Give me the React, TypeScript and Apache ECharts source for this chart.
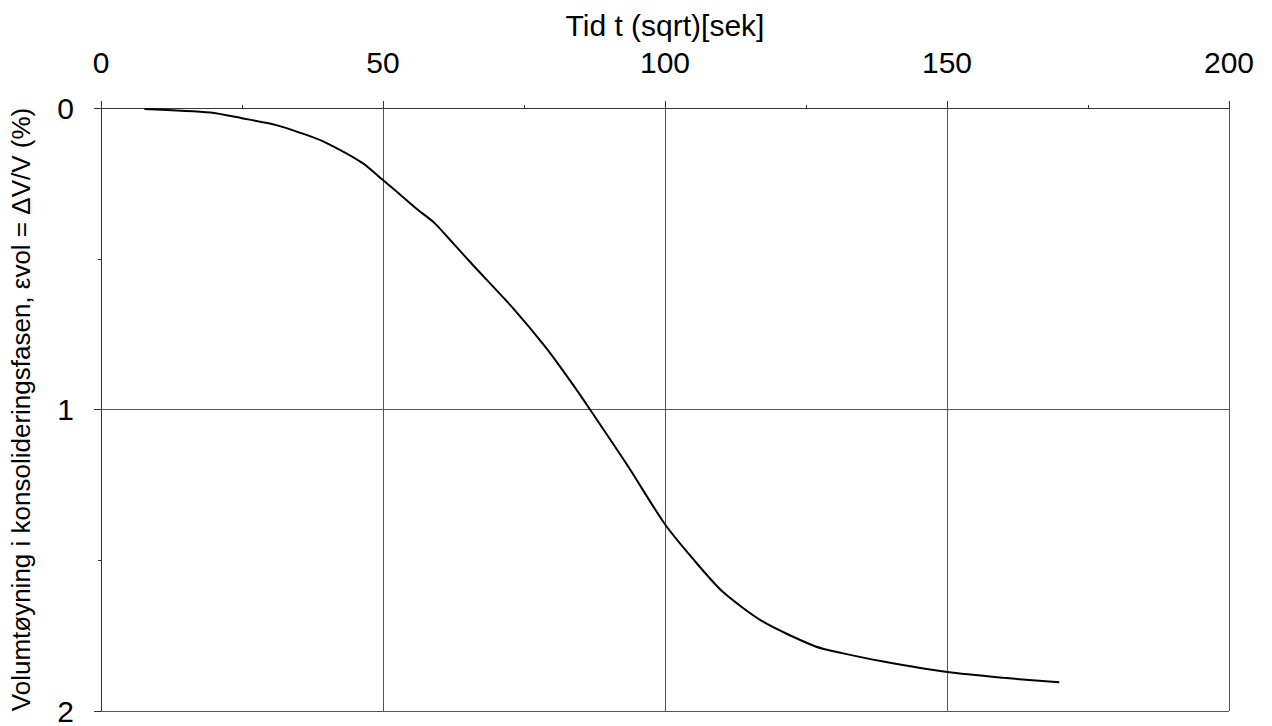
import React, { useEffect, useRef } from "react";
import * as echarts from "echarts";

const timeValues = [7.7, 19.4, 25, 30.9, 35.6, 39.4, 46.4, 49.7, 52.6, 56, 59.1, 62.5, 66.1, 73.2, 79.1, 83.8, 86.7, 93.5, 99.9, 104.9, 110.2, 117.3, 126.7, 131.4, 138.5, 150.1, 160, 169.9];
const strainValues = [0.003, 0.015, 0.034, 0.056, 0.084, 0.111, 0.183, 0.235, 0.28, 0.335, 0.381, 0.45, 0.524, 0.667, 0.8, 0.921, 1.0, 1.19, 1.378, 1.494, 1.604, 1.703, 1.786, 1.808, 1.835, 1.871, 1.89, 1.905];

const xName = "Tid t (sqrt)[sek]";
const yName = "Volumtøyning i konsolideringsfasen, εvol = ΔV/V (%)";

export default function App() {
  const ref = useRef<HTMLDivElement>(null);
  useEffect(() => {
    if (!ref.current) return;
    const chart = echarts.init(ref.current, null, { renderer: "svg" });
    const font = "'Liberation Sans', Arial, sans-serif";
    const axisColor = "#333";
    const gridColor = "#555";
    chart.setOption({
      animation: false,
      backgroundColor: "#fff",
      grid: { left: 95, right: 43, top: 108, bottom: 13, containLabel: false },
      xAxis: {
        type: "value",
        position: "top",
        min: 0,
        max: 200,
        interval: 50,
        name: xName,
        nameLocation: "middle",
        nameGap: 68,
        nameTextStyle: { fontFamily: font, fontSize: 30, color: "#000" },
        axisLine: { show: true, lineStyle: { color: axisColor, width: 1 } },
        axisTick: { show: true, inside: false, length: 7, lineStyle: { color: axisColor } },
        minorTick: { show: true, splitNumber: 2, length: 3, lineStyle: { color: axisColor } },
        axisLabel: { fontFamily: font, fontSize: 30, color: "#000", margin: 31 },
        splitLine: { show: true, lineStyle: { color: gridColor, width: 1 } },
      },
      yAxis: {
        type: "value",
        inverse: true,
        min: 0,
        max: 2,
        interval: 1,
        name: yName,
        nameLocation: "middle",
        nameGap: 67,
        nameTextStyle: { fontFamily: font, fontSize: 26, color: "#000" },
        axisLine: { show: true, lineStyle: { color: axisColor, width: 1 } },
        axisTick: { show: true, inside: false, length: 7, lineStyle: { color: axisColor } },
        minorTick: { show: true, splitNumber: 2, length: 3, lineStyle: { color: axisColor } },
        axisLabel: { fontFamily: font, fontSize: 30, color: "#000", margin: 27 },
        splitLine: { show: true, lineStyle: { color: gridColor, width: 1 } },
      },
      series: [
        {
          type: "line",
          data: timeValues.map((t, i) => [t, strainValues[i]]),
          showSymbol: false,
          symbol: "none",
          lineStyle: { color: "#000", width: 2 },
          smooth: 0.25,
        },
      ],
    });
    return () => chart.dispose();
  }, []);
  return (
    <div
      ref={ref}
      style={{ position: "fixed", left: 0, top: 0, width: 1272, height: 726, background: "#fff" }}
    />
  );
}
